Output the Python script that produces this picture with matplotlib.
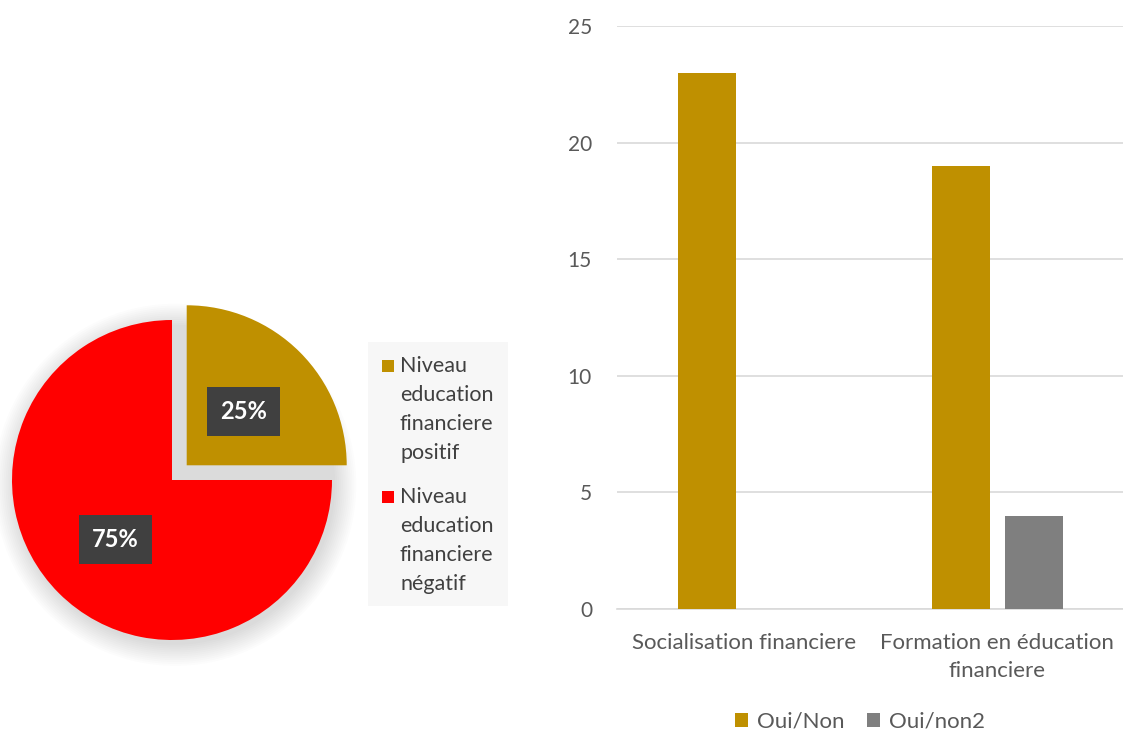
import matplotlib
matplotlib.use("Agg")
import matplotlib.pyplot as plt
from matplotlib.patches import Rectangle, Circle
import numpy as np

plt.rcParams['font.family'] = ['Lato', 'DejaVu Sans']

# ---- data ----
pie_labels = ["Niveau\neducation\nfinanciere\npositif", "Niveau\neducation\nfinanciere\nnégatif"]
pie_values = [25, 75]
pie_colors = ["#BF9000", "#FF0000"]

categories = ["Socialisation financiere", "Formation en éducation\nfinanciere"]
series_names = ["Oui/Non", "Oui/non2"]
oui_non = [23, 19]
oui_non2 = [0, 4]
bar_colors = ["#BF9000", "#7F7F7F"]
yticks = [0, 5, 10, 15, 20, 25]

W, H = 1123, 733
fig = plt.figure(figsize=(W / 100, H / 100), dpi=100)

def fx(px):
    return px / W

def fy(py):
    return 1 - py / H

# ---- pie ----
cx, cy, R = 172, 480, 160
lo, hi = -1.05, 1.3
axp = fig.add_axes([fx(cx + lo * R), fy(cy - lo * R), (hi - lo) * R / W, (hi - lo) * R / H])
axp.axis('off')

# soft shadow
for i in range(12):
    c = Circle((0.02, -0.03), 1.0 + 0.012 * i, color='black', alpha=0.012, lw=0, zorder=0)
    c.set_clip_on(False)
    axp.add_patch(c)

wedges, _ = axp.pie(pie_values, colors=pie_colors, startangle=90, counterclock=False,
                    explode=[0.13, 0], radius=1.0, wedgeprops=dict(linewidth=0))
for w in wedges:
    w.set_zorder(2)
axp.set_xlim(lo, hi)
axp.set_ylim(lo, hi)
axp.set_aspect('equal')

total = sum(pie_values)
start = 90
for i, (v, w) in enumerate(zip(pie_values, wedges)):
    ang = np.deg2rad(start - 360 * v / total / 2)
    start -= 360 * v / total
    off = 0.13 if i == 0 else 0
    d = 0.5 + off
    x, y = d * np.cos(ang), d * np.sin(ang) - 0.02
    axp.text(x, y, f"{v}%", ha='center', va='center', color='white', fontsize=17,
             fontweight='bold', zorder=5,
             bbox=dict(boxstyle='square,pad=0.55', facecolor='#404040', edgecolor='none'))

# pie legend (manual)
fig.patches.append(Rectangle((fx(368), fy(606)), (508 - 368) / W, (606 - 342) / H,
                             transform=fig.transFigure, facecolor='#F7F7F7', edgecolor='none'))
line_h = 29
for i, (lab, col) in enumerate(zip(pie_labels, pie_colors)):
    top = 366 + i * 131
    fig.patches.append(Rectangle((fx(382), fy(top + 6)), 12 / W, 12 / H,
                                 transform=fig.transFigure, facecolor=col, edgecolor='none'))
    for j, ln in enumerate(lab.split("\n")):
        fig.text(fx(400), fy(top + j * line_h), ln, ha='left', va='center',
                 fontsize=15.5, color='#404040')

# ---- bar chart ----
axb = fig.add_axes([fx(617), fy(609), (1124 - 617) / W, (609 - 26) / H])
x = np.arange(len(categories))
bw = 0.228
off = 0.144
axb.bar(x - off, oui_non, bw, color=bar_colors[0], label=series_names[0], zorder=3)
axb.bar(x + off, oui_non2, bw, color=bar_colors[1], label=series_names[1], zorder=3)
axb.set_xlim(-0.5, 1.5)
axb.set_ylim(0, 25)
axb.set_yticks(yticks)
axb.yaxis.grid(True, color='#D9D9D9', linewidth=1.2, zorder=0)
axb.set_axisbelow(True)
for s in ['top', 'right', 'left']:
    axb.spines[s].set_visible(False)
axb.spines['bottom'].set_color('#D9D9D9')
axb.spines['bottom'].set_linewidth(1.2)
axb.tick_params(axis='both', length=0, colors='#595959')
axb.tick_params(axis='y', pad=18, labelsize=15)
axb.tick_params(axis='x', pad=17)
axb.set_xticks(x)
axb.set_xticklabels(categories, fontsize=16, color='#595959', linespacing=1.5)
axb.set_facecolor('none')

leg = axb.legend(loc='center', bbox_to_anchor=(fx(860), fy(722)), bbox_transform=fig.transFigure,
                 ncol=2, frameon=False, fontsize=16, handlelength=0.6, handleheight=0.6,
                 handletextpad=0.4, columnspacing=1.0)
for t in leg.get_texts():
    t.set_color('#595959')

fig.savefig("out.png", dpi=100)
